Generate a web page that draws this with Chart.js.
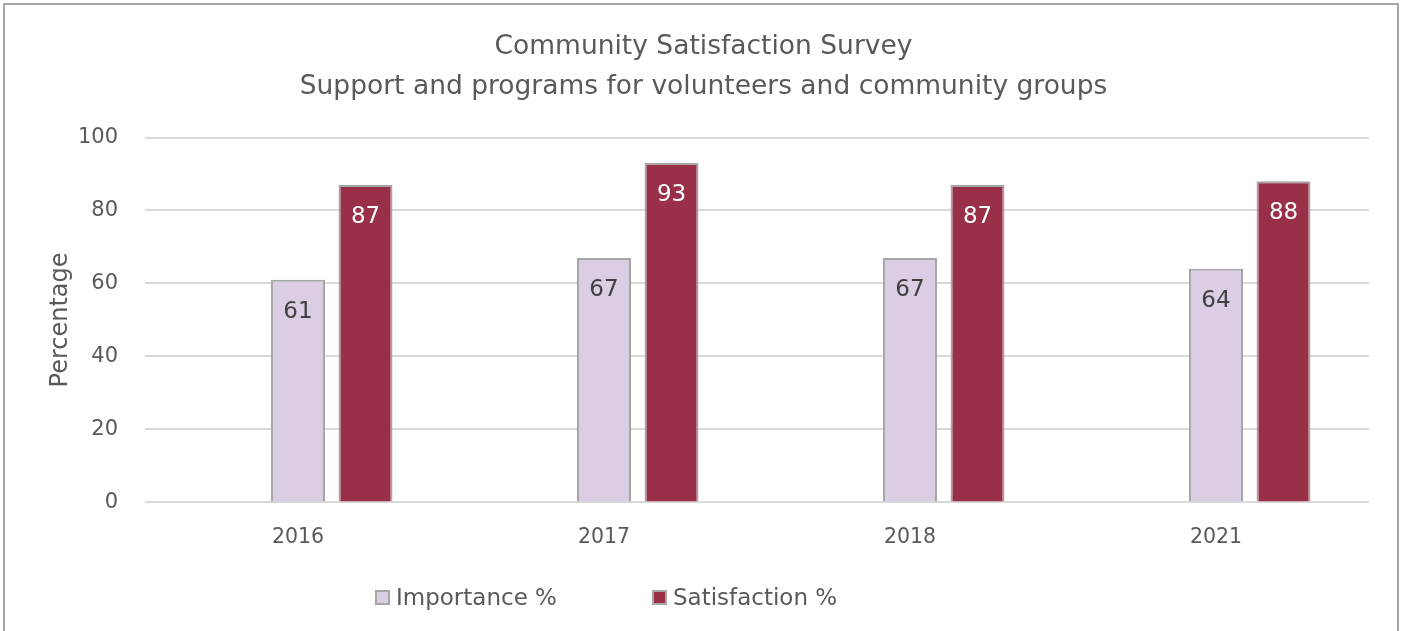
<!DOCTYPE html>
<html>
<head>
<meta charset="utf-8">
<title>Community Satisfaction Survey</title>
<script src="https://cdn.jsdelivr.net/npm/chart.js@4.4.1/dist/chart.umd.min.js"></script>
<style>
  html, body { margin: 0; padding: 0; background: #fff; }
  #wrap { position: relative; width: 1407px; height: 631px; overflow: hidden; }
  #frame { position: absolute; left: 3px; top: 3px; width: 1396px; height: 700px; border: 2px solid #a6a6a6; box-sizing: border-box; }
  #chart { position: absolute; left: 0; top: 0; }
  .legend-item { position: absolute; top: 583px; height: 28px; display: flex; align-items: center;
    font-family: "DejaVu Sans", sans-serif; font-size: 23px; color: #595959; white-space: nowrap; }
  .legend-item span.box { width: 15px; height: 15px; border: 2px solid #a6a6a6; box-sizing: border-box; margin-right: 6px; }
</style>
</head>
<body>
<div id="wrap">
  <div id="frame"></div>
  <canvas id="chart" width="1407" height="631"></canvas>
  <div id="legend"></div>
</div>
<script>
const FONT = '"DejaVu Sans", sans-serif';
const TEXT = '#595959';

const years = ['2016', '2017', '2018', '2021'];
const importance = [61, 67, 67, 64];
const satisfaction = [87, 93, 87, 88];
// empty series keeps the Excel-style slot to the left of each pair
const spacer = [null, null, null, null];

const seriesNames = ['Importance %', 'Satisfaction %'];
const seriesColors = ['#dbcde3', '#9a3047'];
const labelColors = ['#404040', '#ffffff'];
const legendLeft = [375, 652];

// value labels just inside the top of each bar
const barLabels = {
  id: 'barLabels',
  afterDatasetsDraw(chart) {
    const ctx = chart.ctx;
    chart.data.datasets.forEach((ds, i) => {
      if (!ds.labelColor) return;
      const meta = chart.getDatasetMeta(i);
      meta.data.forEach((bar, j) => {
        const v = ds.data[j];
        if (v == null) return;
        ctx.save();
        ctx.font = '23px ' + FONT;
        ctx.fillStyle = ds.labelColor;
        ctx.textAlign = 'center';
        ctx.textBaseline = 'middle';
        ctx.fillText(String(v), bar.x, bar.y + 32);
        ctx.restore();
      });
    });
  }
};

const ctx = document.getElementById('chart').getContext('2d');
const chart = new Chart(ctx, {
  type: 'bar',
  data: {
    labels: years,
    datasets: [
      { label: '', data: spacer, backgroundColor: 'transparent', borderWidth: 0 },
      { label: seriesNames[0], data: importance, backgroundColor: seriesColors[0],
        borderColor: '#a6a6a6', borderWidth: 2, labelColor: labelColors[0] },
      { label: seriesNames[1], data: satisfaction, backgroundColor: seriesColors[1],
        borderColor: '#a6a6a6', borderWidth: 2, labelColor: labelColors[1] }
    ]
  },
  options: {
    responsive: false,
    animation: false,
    categoryPercentage: 0.662,
    barPercentage: 0.8,
    layout: { padding: { left: 38, right: 38, top: 0, bottom: 58 } },
    plugins: {
      legend: { display: false },
      tooltip: { enabled: false },
      title: {
        display: true,
        text: ['Community Satisfaction Survey', 'Support and programs for volunteers and community groups'],
        color: TEXT,
        font: { family: FONT, size: 26.5, weight: 'normal', lineHeight: 1.5 },
        padding: { top: 27, bottom: 31 }
      }
    },
    scales: {
      x: {
        grid: { display: false, drawTicks: false },
        border: { display: false },
        ticks: { color: TEXT, padding: 23, font: { family: FONT, size: 20.5 } }
      },
      y: {
        min: 0,
        max: 100,
        ticks: { stepSize: 20, color: TEXT, padding: 27, font: { family: FONT, size: 21 } },
        grid: { color: '#d9d9d9', lineWidth: 2, drawTicks: false },
        border: { display: false },
        title: {
          display: true,
          text: 'Percentage',
          color: TEXT,
          font: { family: FONT, size: 24 },
          padding: { top: 8, bottom: 0 }
        },
        afterFit(scale) { scale.width = 107; }
      }
    }
  },
  plugins: [barLabels]
});

// legend drawn below the chart from the dataset colours
const legend = document.getElementById('legend');
chart.data.datasets.forEach((ds, i) => {
  if (!ds.label) return;
  const item = document.createElement('div');
  item.className = 'legend-item';
  item.style.left = legendLeft[i - 1] + 'px';
  const box = document.createElement('span');
  box.className = 'box';
  box.style.background = ds.backgroundColor;
  const txt = document.createElement('span');
  txt.textContent = ds.label;
  item.appendChild(box);
  item.appendChild(txt);
  legend.appendChild(item);
});
</script>
</body>
</html>
